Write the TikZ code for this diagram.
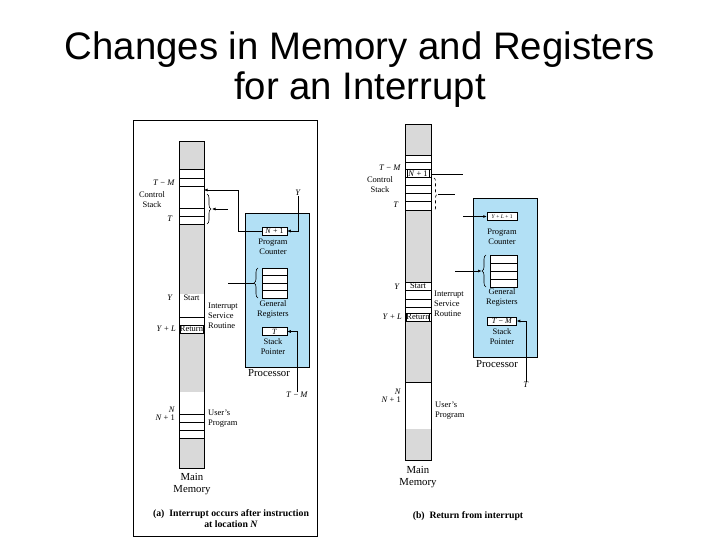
\documentclass[tikz,border=0pt]{standalone}
\usepackage{fontspec}
\setmainfont{Liberation Serif}
\newfontfamily\titlefont{Liberation Sans}
\usetikzlibrary{arrows.meta,decorations.pathreplacing}
\definecolor{memgray}{RGB}{217,217,217}
\definecolor{procblue}{RGB}{178,224,245}
\begin{document}
\begin{tikzpicture}[x=1bp,y=-1bp,
  lbl/.style={inner sep=0pt, font=\fontsize{8.5}{10}\selectfont},
  big/.style={inner sep=0pt, font=\fontsize{10.8}{12}\selectfont, align=center},
  capt/.style={inner sep=0pt, font=\bfseries\fontsize{9.8}{11}\selectfont, align=center},
  reg/.style={draw, fill=white, line width=0.5bp, inner sep=0pt, minimum width=25bp, minimum height=8bp, font=\fontsize{8}{9}\selectfont},
  ln/.style={line width=0.6bp},
  arr/.style={line width=0.6bp, -{Latex[length=3.5bp,width=3bp]}},
  proc/.style={draw, fill=procblue, line width=0.6bp, inner sep=0pt},
  ttl/.style={font=\titlefont\fontsize{38.5}{40}\selectfont, anchor=base, inner sep=0pt}
  ]
\useasboundingbox (0,0) rectangle (720,540);

% title
\node[ttl] (t1) at (360,60) {Changes in Memory and Registers};
\node[ttl] (t2) at (360,100) {for an Interrupt};

% ================= panel (a)
\draw[line width=0.8bp] (133,120) rectangle (317,536);
\fill[memgray] (179,141) rectangle (204,169);
\fill[memgray] (179,224) rectangle (204,294);
\fill[memgray] (179,333) rectangle (204,392);
\fill[memgray] (179,438) rectangle (204,468);
\foreach \yy in {169,178,186,208,216,224,317,325,333,414,422,430,438}
  \draw[ln] (179,\yy) -- (204,\yy);
\draw[ln] (179,141) rectangle (204,468);

\node[lbl, anchor=east] (aTM) at (175,183) {\textit{T} − \textit{M}};
\node[lbl, align=center] (aCS) at (152,200) {Control\\Stack};
\node[lbl] (aT) at (170,219) {\textit{T}};
\node[lbl] (aY) at (170,298) {\textit{Y}};
\node[lbl] (aStart) at (191.5,298) {Start};
\node[lbl, anchor=east] (aYL) at (176,329) {\textit{Y} + \textit{L}};
\node[lbl, draw, line width=0.5bp, minimum width=23bp, minimum height=8bp] (aRet) at (191.5,329) {Return};
\node[lbl, align=left, anchor=west] (aISR) at (208,315.5) {Interrupt\\Service\\Routine};
\node[lbl, anchor=east] (aN) at (175,410) {\textit{N}};
\node[lbl, anchor=east] (aN1l) at (175,418) {\textit{N} + 1};
\node[lbl, align=left, anchor=west] (aUP) at (208,419) {User's\\Program};
\node[big] (aMM) at (192,484) {Main\\Memory};
\node[capt] (acap) at (231,518.5) {(a)\ \ Interrupt occurs after instruction\\at location \textit{N}};

% processor (a)
\node[proc, minimum width=64bp, minimum height=154bp] (aProc) at (277,290) {};
\node[reg] (aPC) at (274.5,231) {\textit{N} + 1};
\node[lbl, align=center] (aPCl) at (273,246.5) {Program\\Counter};
\node[draw, fill=white, line width=0.5bp, minimum width=25bp, minimum height=30bp, inner sep=0pt] (aRegs) at (274.5,283) {};
\foreach \yy in {275.5,283,290.5} \draw[line width=0.5bp] (262,\yy) -- (287,\yy);
\node[lbl, align=center] (aGRl) at (273,309) {General\\Registers};
\node[reg] (aSP) at (274.5,331.5) {\textit{T}};
\node[lbl, align=center] (aSPl) at (273,347) {Stack\\Pointer};
\node[big] (aProcl) at (269,373.5) {Processor};

\draw[ln, decorate, decoration={brace, amplitude=4bp}] (258,298) -- (258,268);
\coordinate (aRegSrc) at (228,283);
\coordinate (aRegTip) at (253.5,283);
\draw[ln] (aRegSrc) -- (aRegTip);

\node[lbl] (aTMb) at (297,395) {\textit{T} − \textit{M}};
\draw[arr] (aTMb.north) |- (aSP.east);
\node[lbl] (aYt) at (298,193) {\textit{Y}};
\draw[arr] (aYt.south) |- (aPC.east);
\coordinate (aStackIn) at (204,190);
\draw[arr] (aPC.west) -- ++(-23,0) |- (aStackIn);

\draw[ln, decorate, decoration={brace, amplitude=4bp}] (207,194) -- (207,224);
\coordinate (aBrSrc) at (228,209);
\coordinate (aBrTip) at (212,209);
\draw[arr] (aBrSrc) -- (aBrTip);

% ================= panel (b)
\fill[memgray] (405,124) rectangle (431,155);
\fill[memgray] (405,210) rectangle (431,282);
\fill[memgray] (405,321) rectangle (431,382);
\fill[memgray] (405,429) rectangle (431,460);
\foreach \yy in {155,162,169.5,177,185,193,201,210,282,290,299,307,313,321,382}
  \draw[ln] (405,\yy) -- (431,\yy);
\draw[ln] (405,124) rectangle (431,460);

\node[lbl, draw, line width=0.5bp, minimum width=22bp, minimum height=7.5bp] (bN1) at (418,173.25) {\textit{N} + 1};
\node[lbl, anchor=east] (bTM) at (401,168) {\textit{T} − \textit{M}};
\node[lbl, align=center] (bCS) at (380,184.5) {Control\\Stack};
\node[lbl] (bT) at (396,205) {\textit{T}};
\node[lbl] (bY) at (397,287) {\textit{Y}};
\node[lbl] (bStart) at (418,286) {Start};
\node[lbl, anchor=east] (bYL) at (402,317) {\textit{Y} + \textit{L}};
\node[lbl, draw, line width=0.5bp, minimum width=23bp, minimum height=8bp] (bRet) at (418,317) {Return};
\node[lbl, align=left, anchor=west] (bISR) at (434,304) {Interrupt\\Service\\Routine};
\node[lbl, anchor=east] (bN) at (401,392) {\textit{N}};
\node[lbl, anchor=east] (bN1l) at (401,400) {\textit{N} + 1};
\node[lbl, align=left, anchor=west] (bUP) at (435,410.5) {User's\\Program};
\node[big] (bMM) at (418,477) {Main\\Memory};
\node[capt] (bcap) at (468,516) {(b)\ \ Return from interrupt};

% processor (b)
\node[proc, minimum width=64bp, minimum height=159bp] (bProc) at (505,277.5) {};
\node[reg, font=\fontsize{5.5}{6}\selectfont, minimum width=30bp] (bPC) at (502,216.5) {\textit{Y} + \textit{L} + 1};
\node[lbl, align=center] (bPCl) at (502,236.5) {Program\\Counter};
\node[draw, fill=white, line width=0.5bp, minimum width=27bp, minimum height=32bp, inner sep=0pt] (bRegs) at (503.5,271) {};
\foreach \yy in {263,271,279} \draw[line width=0.5bp] (490,\yy) -- (517,\yy);
\node[lbl, align=center] (bGRl) at (502,297.5) {General\\Registers};
\node[reg, minimum width=29bp] (bSP) at (502,321) {\textit{T} − \textit{M}};
\node[lbl, align=center] (bSPl) at (502,337) {Stack\\Pointer};
\node[big] (bProcl) at (497,364.5) {Processor};

\draw[ln, decorate, decoration={brace, amplitude=4bp}] (486,287) -- (486,255);
\coordinate (bRegSrc) at (455,271);
\coordinate (bRegTip) at (481.5,271);
\draw[arr] (bRegSrc) -- (bRegTip);

\node[lbl] (bTl) at (526,385) {\textit{T}};
\draw[arr] (bTl.north) |- (bSP.east);
\coordinate (bPCsrc) at (463,216.5);
\draw[arr] (bPCsrc) -- (bPC.west);
\coordinate (bN1start) at (431,174);
\coordinate (bN1end) at (463,174);
\draw[ln] (bN1start) -- (bN1end);
\draw[ln, dashed, decorate, decoration={brace, amplitude=3bp}] (434,178) -- (434,211);
\coordinate (bBrTip) at (438,194.5);
\coordinate (bBrEnd) at (455,194.5);
\draw[ln] (bBrTip) -- (bBrEnd);
\end{tikzpicture}
\end{document}
